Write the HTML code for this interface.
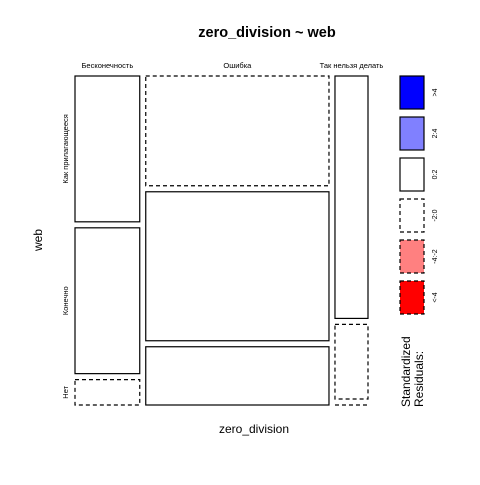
<!DOCTYPE html>
<html><head><meta charset="utf-8"><style>
body{margin:0;background:#fff}
svg text{font-family:"Liberation Sans","DejaVu Sans",sans-serif}
</style></head><body>
<svg id="c" width="480" height="480" xmlns="http://www.w3.org/2000/svg">
<rect width="480" height="480" fill="#fff"/>
<text x="267" y="37" font-size="14.5" font-weight="bold" text-anchor="middle">zero_division ~ web</text>
<text x="254" y="433" font-size="12" text-anchor="middle">zero_division</text>
<text transform="translate(42,240) rotate(-90)" font-size="12" text-anchor="middle">web</text>
<g id="cells"></g>
<g id="legend"></g>
<text transform="translate(410,407) rotate(-90)" font-size="12"><tspan x="0" dy="0">Standardized</tspan><tspan x="0" dy="13">Residuals:</tspan></text>
</svg>
<script>
const colCats = ["Бесконечность","Ошибка","Так нельзя делать"];
const rowCats = ["Как прилагающееся","Конечно","Нет"];
const counts = [[46,46,8],[98,133,52],[39,12,0]]; // per column, rows
const residuals = [[1.2,0.8,-1.1],[-0.9,0.5,0.6],[1.5,-0.7,-1.3]];
const legendLabels = [">4","2:4","0:2","-2:0","-4:-2","<-4"];
const legendFills = ["#0000ff","#8080ff","#ffffff","#ffffff","#ff8080","#ff0000"];
const legendDash = [false,false,false,true,true,true];

const NS="http://www.w3.org/2000/svg";
const X0=75,X1=368,Y0=76,Y1=405,GAP=6;
const g=document.getElementById('cells');
function mk(t,a){const e=document.createElementNS(NS,t);for(const k in a)e.setAttribute(k,a[k]);return e;}
const colTot=counts.map(c=>c.reduce((a,b)=>a+b,0));
const grand=colTot.reduce((a,b)=>a+b,0);
const W=(X1-X0)-GAP*(counts.length-1);
let x=X0;
counts.forEach((col,i)=>{
  const w=W*colTot[i]/grand;
  const t=mk('text',{x:x+w/2,y:68,'font-size':7.5,'text-anchor':'middle'});
  t.textContent=colCats[i];
  
  
  g.appendChild(t);
  const H=(Y1-Y0)-GAP*(col.length-1);
  let y=Y0;
  col.forEach((v,j)=>{
    const h=H*v/colTot[i];
    const r=residuals[i][j];
    const fill=r>4?"#0000ff":r>2?"#8080ff":r<-4?"#ff0000":r<-2?"#ff8080":"#fff";
    let rc;
    if(h<=0.5){
      const yy=Math.min(y,Y1);
      rc=mk('line',{x1:x,y1:yy,x2:x+w,y2:yy,stroke:'#000','stroke-width':1.2});
    } else {
      rc=mk('rect',{x:x,y:y,width:w,height:h,fill:fill,stroke:'#000','stroke-width':1.2});
    }
    if(r<0)rc.setAttribute('stroke-dasharray','4,3');
    
    
    g.appendChild(rc);
    if(i===0){
      const lt=mk('text',{transform:`translate(68,${y+h/2}) rotate(-90)`,'font-size':7.5,'text-anchor':'middle'});
      lt.textContent=rowCats[j];
      
      
      g.appendChild(lt);
    }
    y+=h+GAP;
  });
  x+=w+GAP;
});
const lg=document.getElementById('legend');
legendLabels.forEach((l,k)=>{
  const y=76+k*41;
  const r=mk('rect',{x:400,y:y,width:24,height:33,fill:legendFills[k],stroke:'#000','stroke-width':1.2});
  if(legendDash[k])r.setAttribute('stroke-dasharray','4,3');
  
  
  lg.appendChild(r);
  const t=mk('text',{transform:`translate(437,${y+16.5}) rotate(-90)`,'font-size':7,'text-anchor':'middle'});
  t.textContent=l;
  
  
  lg.appendChild(t);
});
</script>
</body></html>
